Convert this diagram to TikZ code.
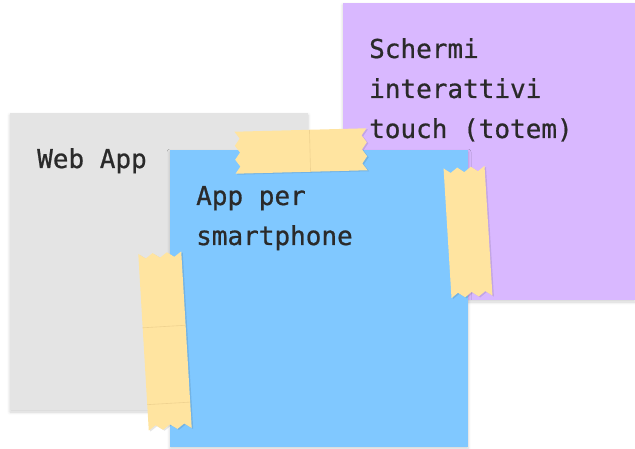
\documentclass[tikz,border=0pt]{standalone}
\usepackage{fontspec}
\newfontfamily\notefont[FakeBold=0.7]{DejaVu Sans Mono}
\usetikzlibrary{shadows.blur}

\definecolor{notegray}{HTML}{E4E4E4}
\definecolor{notepurple}{HTML}{D9B8FF}
\definecolor{noteblue}{HTML}{80C8FF}
\definecolor{tapeyellow}{HTML}{FFE4A0}
\definecolor{tapeline}{HTML}{EFD290}
\definecolor{inktext}{HTML}{2A2A2A}

\tikzset{
  note/.style={draw=none, anchor=north west, inner sep=0pt, outer sep=0pt,
    blur shadow={shadow xshift=0pt, shadow yshift=-2pt, shadow blur radius=3pt,
      shadow blur steps=6, shadow opacity=18}},
  % anchored at the baseline of the LAST line of the label
  notetext/.style={anchor=base west, inner sep=0pt, align=left, text=inktext,
    font=\notefont\fontsize{26}{40}\selectfont},
  tape/.style={fill=tapeyellow},
  tapeshade/.style={fill=black, fill opacity=0.10},
  tapeseam/.style={draw=tapeline, line width=0.6pt},
}

% strip of sticky tape centred at (#1,#2), turned by #3, length #4, width #5;
% both ends are torn in a zigzag
\newcommand\tapestrip[5]{%
  \pgfmathsetmacro\tl{#4/2}%
  \pgfmathsetmacro\tw{#5/2}%
  \pgfmathsetmacro\ts{#5/6}%
  \def\tapepath{(-\tl,-\tw) -- (\tl,-\tw)
      -- ({\tl-5},{-\tw+\ts}) -- (\tl,{-\tw+2*\ts}) -- ({\tl-5},{-\tw+3*\ts})
      -- (\tl,{-\tw+4*\ts}) -- ({\tl-5},{-\tw+5*\ts}) -- (\tl,\tw)
      -- (-\tl,\tw)
      -- ({-\tl+5},{\tw-\ts}) -- (-\tl,{\tw-2*\ts}) -- ({-\tl+5},{\tw-3*\ts})
      -- (-\tl,{\tw-4*\ts}) -- ({-\tl+5},{\tw-5*\ts}) -- cycle}%
  \begin{scope}[shift={(#1+1.5,#2+1)}, rotate=#3]
    \fill[tapeshade] \tapepath;
  \end{scope}
  \begin{scope}[shift={(#1,#2)}, rotate=#3]
    \fill[tape] \tapepath;
  \end{scope}}

\begin{document}
\begin{tikzpicture}[x=1pt, y=-1pt]
  \useasboundingbox (0,0) rectangle (635,449);

  % sticky notes, back to front
  \node[note, fill=notegray, minimum width=298pt, minimum height=297pt]
    (webnote) at (10,113) {};
  \node[note, fill=notepurple, minimum width=292pt, minimum height=297pt]
    (totemnote) at (343,3) {};
  \node[note, fill=noteblue, minimum width=298pt, minimum height=297pt]
    (appnote) at (170,150) {};

  % labels
  \node[notetext] (webtext) at (37,168) {Web App};
  \node[notetext] (totemtext) at (369,138) {Schermi\\interattivi\\touch (totem)};
  \node[notetext] (apptext) at (196,245) {App per\\smartphone};

  % tape holding the notes together
  \tapestrip{301}{151}{1.5}{132}{42}
  \begin{scope}[shift={(301,151)}, rotate=1.5]
    \draw[tapeseam] (9,-21) -- (9,21);
  \end{scope}

  \tapestrip{468}{232}{93.5}{130}{41}

  \tapestrip{165}{341}{93.4}{177}{43}
  \begin{scope}[shift={(165,341)}, rotate=93.4]
    \draw[tapeseam] (14.5,-21.5) -- (14.5,21.5);
    \draw[tapeseam] (-62.5,-21.5) -- (-62.5,21.5);
  \end{scope}
\end{tikzpicture}
\end{document}
